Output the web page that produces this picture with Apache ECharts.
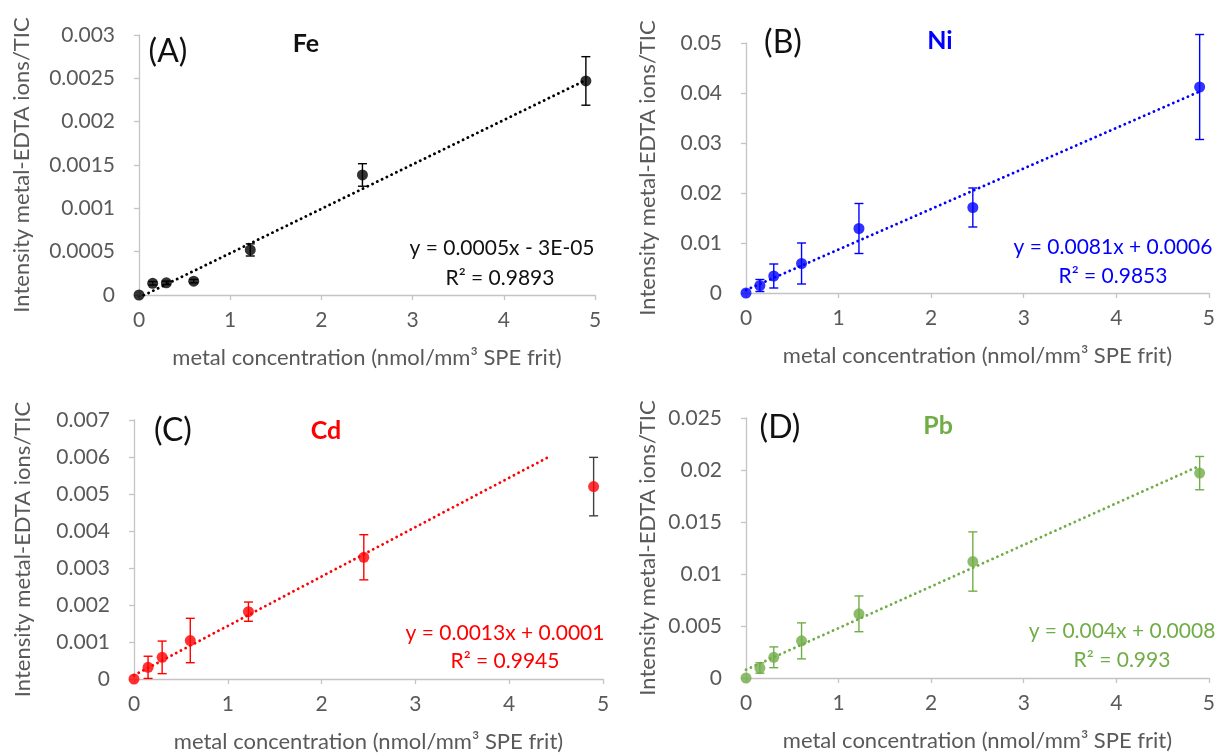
<!DOCTYPE html>
<html>
<head>
<meta charset="utf-8">
<title>metal-EDTA calibration</title>
<script src="https://cdn.jsdelivr.net/npm/echarts@6/dist/echarts.min.js"></script>
<style>
  html, body { margin: 0; padding: 0; background: #fff; }
  #chart { width: 1218px; height: 756px; }
</style>
</head>
<body>
<div id="chart"></div>
<script>
// metal concentration (nmol/mm3 SPE frit), shared by all panels
const conc = [0, 0.15, 0.3, 0.6, 1.22, 2.45, 4.9];
const xTicks = ['0', '1', '2', '3', '4', '5'];

// Fe
const feMean = [0, 0.000135, 0.00014, 0.00016, 0.00052, 0.001385, 0.00247];
const feErr = [0, 0.00002, 0.00002, 0.00002, 0.00007, 0.00013, 0.00028];
const feTrendX = [0, 4.9];
const feTrendY = [-0.00003, 0.00248];
const feTicks = ['0', '0.0005', '0.001', '0.0015', '0.002', '0.0025', '0.003'];

// Ni
const niMean = [0, 0.0015, 0.0034, 0.0059, 0.0129, 0.0171, 0.0412];
const niErr = [0, 0.0012, 0.0024, 0.0041, 0.005, 0.0039, 0.0105];
const niTrendX = [0, 4.9];
const niTrendY = [0.0006, 0.0403];
const niTicks = ['0', '0.01', '0.02', '0.03', '0.04', '0.05'];

// Cd
const cdMean = [0, 0.000315, 0.000585, 0.00104, 0.00182, 0.00329, 0.0052];
const cdErr = [0, 0.0003, 0.00044, 0.0006, 0.00026, 0.00061, 0.00079];
const cdTrendX = [0, 4.42];
const cdTrendY = [0.0001, 0.006];
const cdTicks = ['0', '0.001', '0.002', '0.003', '0.004', '0.005', '0.006', '0.007'];

// Pb
const pbMean = [0, 0.00096, 0.00199, 0.00357, 0.00617, 0.0112, 0.0197];
const pbErr = [0, 0.0005, 0.001, 0.00173, 0.00172, 0.00285, 0.0016];
const pbTrendX = [0, 4.9];
const pbTrendY = [0.0008, 0.0204];
const pbTicks = ['0', '0.005', '0.01', '0.015', '0.02', '0.025'];

const letters = ['(A)', '(B)', '(C)', '(D)'];
const metals = ['Fe', 'Ni', 'Cd', 'Pb'];
const equations = ['y = 0.0005x - 3E-05', 'y = 0.0081x + 0.0006', 'y = 0.0013x + 0.0001', 'y = 0.004x + 0.0008'];
const r2Labels = ['R² = 0.9893', 'R² = 0.9853', 'R² = 0.9945', 'R² = 0.993'];

const xTitle = 'metal concentration (nmol/mm³ SPE frit)';
const yTitle = 'Intensity metal-EDTA ions/TIC';

const FONT = 'Lato, "Open Sans", sans-serif';
const AXIS_GRAY = '#c4c4c4';
const LABEL_GRAY = '#595959';

// panel geometry and styling
const panels = [
  { mean: feMean, err: feErr, tx: feTrendX, ty: feTrendY, ticks: feTicks, interval: 0.0005, color: '#000000',
    grid: { left: 139, top: 35, width: 456, height: 260 }, yGap: 106,
    letter: [168, 52], metal: [306, 44], eq: [502, 248], r2: [500, 278] },
  { mean: niMean, err: niErr, tx: niTrendX, ty: niTrendY, ticks: niTicks, interval: 0.01, color: '#0000ff',
    grid: { left: 746, top: 43, width: 468, height: 250 }, yGap: 87,
    letter: [783, 43], metal: [940, 41], eq: [1113, 247], r2: [1113, 276] },
  { mean: cdMean, err: cdErr, tx: cdTrendX, ty: cdTrendY, ticks: cdTicks, interval: 0.001, color: '#ff0000',
    grid: { left: 134, top: 420, width: 469, height: 259 }, yGap: 100,
    letter: [173, 431], metal: [326, 431], eq: [505, 633], r2: [505, 661] },
  { mean: pbMean, err: pbErr, tx: pbTrendX, ty: pbTrendY, ticks: pbTicks, interval: 0.005, color: '#70ad47',
    grid: { left: 746, top: 418, width: 468, height: 260 }, yGap: 87,
    letter: [780, 428], metal: [938, 426], eq: [1122, 631], r2: [1122, 660] },
];

// the last Cd error bar is drawn in dark gray in the original
const cdOutlierBarColor = '#404040';

const grids = [];
const xAxes = [];
const yAxes = [];
const series = [];
const graphics = [];

function text(str, pos, font, color) {
  return {
    type: 'text', x: pos[0], y: pos[1], silent: true,
    style: { text: str, font: font, fill: color, align: 'center', verticalAlign: 'middle' }
  };
}

panels.forEach((p, i) => {
  const yMax = p.interval * (p.ticks.length - 1);
  grids.push(p.grid);

  xAxes.push({
    gridIndex: i, type: 'value', min: 0, max: 5, interval: 1,
    name: xTitle, nameLocation: 'middle', nameGap: 52,
    nameTextStyle: { fontFamily: FONT, fontSize: 22, color: LABEL_GRAY },
    axisLine: { show: true, lineStyle: { color: AXIS_GRAY, width: 1.3 } },
    axisTick: { show: true, length: 5, lineStyle: { color: AXIS_GRAY, width: 1.3 } },
    axisLabel: { margin: 15, fontFamily: FONT, fontSize: 21, color: LABEL_GRAY, formatter: v => xTicks[Math.round(v)] },
    splitLine: { show: false }
  });

  yAxes.push({
    gridIndex: i, type: 'value', min: 0, max: yMax, interval: p.interval,
    name: yTitle, nameLocation: 'middle', nameGap: p.yGap, nameRotate: 90,
    nameTextStyle: { fontFamily: FONT, fontSize: 22, color: LABEL_GRAY },
    axisLine: { show: true, lineStyle: { color: AXIS_GRAY, width: 1.3 } },
    axisTick: { show: true, length: 5, lineStyle: { color: AXIS_GRAY, width: 1.3 } },
    axisLabel: { margin: 24, fontFamily: FONT, fontSize: 21, color: LABEL_GRAY,
      formatter: v => p.ticks[Math.round(v / p.interval)] },
    splitLine: { show: false }
  });

  // dotted linear trendline
  series.push({
    type: 'line', xAxisIndex: i, yAxisIndex: i, clip: true, silent: true,
    symbol: 'none', z: 2,
    data: p.tx.map((x, k) => [x, p.ty[k]]),
    lineStyle: { color: p.color, width: 2.8, type: [0.1, 5.2], cap: 'round' }
  });

  // error bars
  series.push({
    type: 'custom', xAxisIndex: i, yAxisIndex: i, silent: true, z: 3,
    data: conc.map((x, k) => {
      const item = { value: [x, p.mean[k] - p.err[k], p.mean[k] + p.err[k]] };
      if (i === 2 && k === conc.length - 1) item.itemStyle = { color: cdOutlierBarColor };
      return item;
    }),
    itemStyle: { color: p.color },
    renderItem: (params, api) => {
      if (api.value(2) - api.value(1) <= 0) return;
      const top = api.coord([api.value(0), api.value(2)]);
      const bot = api.coord([api.value(0), api.value(1)]);
      const half = 4.5;
      const style = { stroke: api.visual('color'), lineWidth: 1.4 };
      return {
        type: 'group',
        children: [
          { type: 'line', shape: { x1: top[0], y1: top[1], x2: bot[0], y2: bot[1] }, style: style },
          { type: 'line', shape: { x1: top[0] - half, y1: top[1], x2: top[0] + half, y2: top[1] }, style: style },
          { type: 'line', shape: { x1: bot[0] - half, y1: bot[1], x2: bot[0] + half, y2: bot[1] }, style: style }
        ]
      };
    }
  });

  // measured points
  series.push({
    type: 'scatter', xAxisIndex: i, yAxisIndex: i, silent: true, z: 4, clip: false,
    symbol: 'circle', symbolSize: 11,
    data: conc.map((x, k) => [x, p.mean[k]]),
    itemStyle: { color: p.color }
  });

  graphics.push(text(letters[i], p.letter, '32px ' + FONT, '#111'));
  graphics.push(text(metals[i], p.metal, 'bold 25px ' + FONT, i === 0 ? '#111' : p.color));
  graphics.push(text(equations[i], p.eq, '21px ' + FONT, i === 0 ? '#111' : p.color));
  graphics.push(text(r2Labels[i], p.r2, '21px ' + FONT, i === 0 ? '#111' : p.color));
});

const chart = echarts.init(document.getElementById('chart'));
chart.setOption({
  animation: false,
  backgroundColor: '#ffffff',
  grid: grids,
  xAxis: xAxes,
  yAxis: yAxes,
  series: series,
  graphic: graphics
});
</script>
</body>
</html>
